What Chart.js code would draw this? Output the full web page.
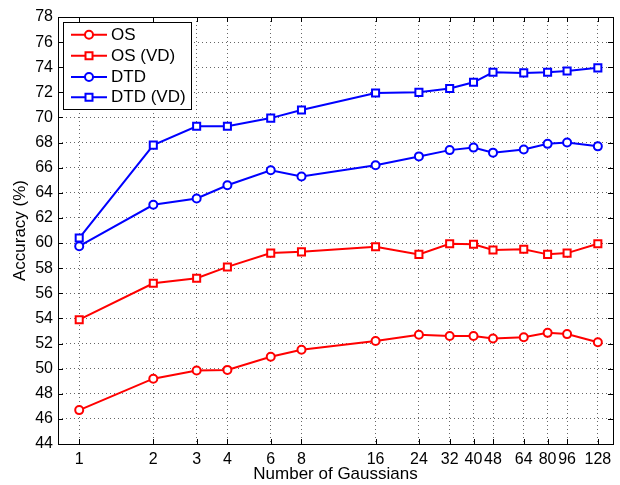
<!DOCTYPE html>
<html>
<head>
<meta charset="utf-8">
<script src="https://cdn.jsdelivr.net/npm/chart.js@4.4.1/dist/chart.umd.min.js"></script>
<style>
  html, body { margin: 0; padding: 0; background: #fff; }
  #wrap { width: 620px; height: 485px; position: relative; }
</style>
</head>
<body>
<div id="wrap"><canvas id="c" width="620" height="485"></canvas></div>
<script>
// ---- data ----
const gaussians = [1, 2, 3, 4, 6, 8, 16, 24, 32, 40, 48, 64, 80, 96, 128];
const osValues     = [46.7, 49.2, 49.85, 49.9, 50.95, 51.5, 52.2, 52.7, 52.6, 52.6, 52.4, 52.5, 52.85, 52.75, 52.1];
const osVdValues   = [53.9, 56.8, 57.2, 58.1, 59.2, 59.3, 59.7, 59.1, 59.95, 59.9, 59.45, 59.5, 59.1, 59.2, 59.95];
const dtdValues    = [59.75, 63.05, 63.55, 64.6, 65.8, 65.3, 66.2, 66.9, 67.4, 67.6, 67.2, 67.45, 67.9, 68.0, 67.7];
const dtdVdValues  = [60.4, 67.8, 69.3, 69.3, 69.95, 70.6, 71.95, 72.0, 72.3, 72.8, 73.6, 73.55, 73.6, 73.7, 73.95];
const seriesLabels = ['OS', 'OS (VD)', 'DTD', 'DTD (VD)'];
const xTickLabels = gaussians.map(String);
const yTicks = [44, 46, 48, 50, 52, 54, 56, 58, 60, 62, 64, 66, 68, 70, 72, 74, 76, 78];

const RED = '#ff0000', BLUE = '#0000ff';
const FONT = 'Liberation Sans, Arial, Helvetica, sans-serif';

function pts(vals) { return gaussians.map((g, i) => ({ x: g, y: vals[i] })); }
function ds(label, vals, color, style) {
  return {
    label, data: pts(vals), borderColor: color, backgroundColor: '#ffffff',
    borderWidth: 2, pointStyle: style, pointRadius: style === 'rect' ? 5 : 4,
    pointBorderWidth: 2, pointBorderColor: color, pointBackgroundColor: '#ffffff',
    tension: 0, fill: false
  };
}

const framePlugin = {
  id: 'frame',
  afterDatasetsDraw(chart) {
    const { ctx, chartArea: a, scales } = chart;
    ctx.save();
    ctx.strokeStyle = '#000';
    ctx.lineWidth = 1;
    ctx.strokeRect(Math.round(a.left) + 0.5, Math.round(a.top) + 0.5,
                   Math.round(a.right - a.left), Math.round(a.bottom - a.top));
    const L = 5;
    ctx.beginPath();
    gaussians.forEach(g => {
      const x = Math.round(scales.x.getPixelForValue(g)) + 0.5;
      ctx.moveTo(x, a.bottom); ctx.lineTo(x, a.bottom - L);
      ctx.moveTo(x, a.top); ctx.lineTo(x, a.top + L);
    });
    yTicks.forEach(v => {
      const y = Math.round(scales.y.getPixelForValue(v)) + 0.5;
      ctx.moveTo(a.left, y); ctx.lineTo(a.left + L, y);
      ctx.moveTo(a.right, y); ctx.lineTo(a.right - L, y);
    });
    ctx.stroke();
    ctx.restore();
  },
  afterDraw(chart) {
    const { ctx } = chart;
    const bx = 63.5, by = 22.5, bw = 128, bh = 87;
    ctx.save();
    ctx.fillStyle = '#fff';
    ctx.fillRect(bx, by, bw, bh);
    ctx.strokeStyle = '#000';
    ctx.lineWidth = 1;
    ctx.strokeRect(bx, by, bw, bh);
    const rows = [34.7, 55.7, 77, 97.3];
    chart.data.datasets.forEach((d, i) => {
      const y = rows[i];
      ctx.strokeStyle = d.borderColor;
      ctx.lineWidth = 2;
      ctx.beginPath(); ctx.moveTo(71, y); ctx.lineTo(107, y); ctx.stroke();
      ctx.fillStyle = '#fff';
      ctx.beginPath();
      if (d.pointStyle === 'rect') {
        ctx.rect(89 - 3.5, y - 3.5, 7, 7);
      } else {
        ctx.arc(89, y, 4, 0, Math.PI * 2);
      }
      ctx.fill(); ctx.stroke();
      ctx.fillStyle = '#000';
      ctx.font = '17px ' + FONT;
      ctx.textBaseline = 'middle';
      ctx.fillText(d.label, 111, y + 0.5);
    });
    ctx.restore();
  }
};

new Chart(document.getElementById('c'), {
  type: 'line',
  data: {
    datasets: [
      ds(seriesLabels[0], osValues, RED, 'circle'),
      ds(seriesLabels[1], osVdValues, RED, 'rect'),
      ds(seriesLabels[2], dtdValues, BLUE, 'circle'),
      ds(seriesLabels[3], dtdVdValues, BLUE, 'rect')
    ]
  },
  options: {
    responsive: false,
    animation: false,
    devicePixelRatio: 1,
    layout: { padding: { left: 0, right: 4, top: 17, bottom: 0 } },
    plugins: { legend: { display: false }, tooltip: { enabled: false } },
    scales: {
      x: {
        type: 'logarithmic', min: 0.82, max: 147.5,
        afterBuildTicks(scale) { scale.ticks = gaussians.map(v => ({ value: v })); },
        afterFit(scale) { scale.height = 41; },
        ticks: {
          autoSkip: false, maxRotation: 0, minRotation: 0, padding: 6,
          color: '#000', font: { family: FONT, size: 16 },
          callback: (v, i) => xTickLabels[i]
        },
        grid: { drawTicks: false, color: '#666', lineWidth: 1 },
        border: { display: false, dash: [1, 3] },
        title: { display: true, text: 'Number of Gaussians', color: '#000',
                 font: { family: FONT, size: 17 }, padding: { top: 0, bottom: 0 } }
      },
      y: {
        type: 'linear', min: 44, max: 78,
        afterBuildTicks(scale) { scale.ticks = yTicks.map(v => ({ value: v })); },
        afterFit(scale) { scale.width = 58; },
        ticks: {
          autoSkip: false, padding: 5, color: '#000',
          font: { family: FONT, size: 16 }
        },
        grid: { drawTicks: false, color: '#666', lineWidth: 1 },
        border: { display: false, dash: [1, 3] },
        title: { display: true, text: 'Accuracy (%)', color: '#000',
                 font: { family: FONT, size: 17 }, padding: { top: 10, bottom: 0 } }
      }
    }
  },
  plugins: [framePlugin]
});
</script>
</body>
</html>
